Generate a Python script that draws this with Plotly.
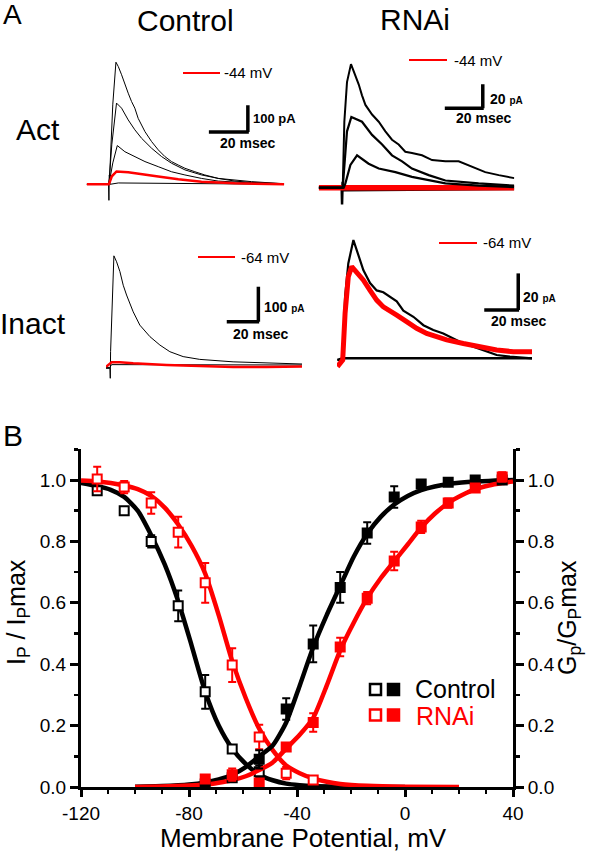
import plotly.graph_objects as go

W, H = 590, 852
def px(x): return x / W
def py(y): return 1 - y / H

RED = "#ff0000"
BLK = "#000000"
FONT = "Liberation Sans, Arial, sans-serif"

# ---------------- Panel B data ----------------
v_inact = [-114, -104, -94, -84, -74, -64, -54]
ctl_inact = [0.965, 0.90, 0.80, 0.59, 0.31, 0.124, 0.05]
ctl_inact_err = [0.01, 0.01, 0.02, 0.05, 0.055, 0.01, 0.02]
v_inact_r = [-114, -104, -94, -84, -74, -64, -54, -44, -34]
rnai_inact = [1.003, 0.977, 0.925, 0.83, 0.665, 0.397, 0.163, 0.045, 0.023]
rnai_inact_err = [0.04, 0.02, 0.035, 0.05, 0.065, 0.055, 0.04, 0.02, 0.01]

v_act = [-74, -64, -54, -44, -34, -24, -14, -4, 6, 16, 26, 36]
ctl_act = [0.01, 0.03, 0.09, 0.254, 0.466, 0.65, 0.827, 0.945, 0.987, 0.993, 1.0, 1.0]
ctl_act_err = [0.005, 0.01, 0.03, 0.035, 0.06, 0.05, 0.035, 0.035, 0.01, 0.01, 0.005, 0.005]
rnai_act = [0.026, 0.04, 0.013, 0.13, 0.21, 0.456, 0.615, 0.736, 0.847, 0.925, 0.974, 1.01]
rnai_act_err = [0.01, 0.02, 0.01, 0.01, 0.03, 0.03, 0.02, 0.03, 0.02, 0.015, 0.01, 0.015]

# fitted curves
fit_ci_v = [-120, -114, -109, -104, -99, -94, -89, -84, -79, -74, -69, -64, -59, -54, -49, -44, -39, -34, -24, -14, 0]
fit_ci = [0.99, 0.98, 0.968, 0.945, 0.9, 0.82, 0.725, 0.605, 0.46, 0.31, 0.2, 0.125, 0.075, 0.04, 0.022, 0.011, 0.006, 0.003, 0.001, 0, 0]
fit_ri_v = [-120, -114, -109, -104, -99, -94, -89, -84, -79, -74, -69, -64, -59, -54, -49, -44, -39, -34, -29, -24, -14, 0, 20]
fit_ri = [0.998, 0.995, 0.99, 0.982, 0.97, 0.948, 0.91, 0.855, 0.785, 0.695, 0.56, 0.41, 0.29, 0.19, 0.12, 0.07, 0.045, 0.028, 0.017, 0.01, 0.004, 0.001, 0]
fit_act_v = [-100, -90, -80, -74, -69, -64, -59, -54, -49, -44, -39, -34, -29, -24, -19, -14, -9, -4, 1, 6, 11, 16, 21, 26, 31, 36, 40]
fit_ca = [0.001, 0.003, 0.008, 0.015, 0.025, 0.04, 0.065, 0.1, 0.135, 0.21, 0.33, 0.455, 0.56, 0.655, 0.75, 0.825, 0.88, 0.92, 0.948, 0.967, 0.979, 0.987, 0.992, 0.995, 0.997, 0.999, 1.0]
fit_ra = [0.0, 0.002, 0.005, 0.008, 0.014, 0.022, 0.035, 0.055, 0.08, 0.125, 0.17, 0.225, 0.33, 0.445, 0.535, 0.615, 0.68, 0.735, 0.79, 0.845, 0.89, 0.925, 0.95, 0.97, 0.982, 0.99, 0.995]

x_ticks = [-120, -80, -40, 0, 40]
x_ticktext = ["-120", "-80", "-40", "0", "40"]

# ---------------- Panel A traces (ms, pA) ----------------
# Control, activation
ca1_t = [-11.4, -0.3, 0.3, 2.0, 3.6, 4.8, 6.5, 8.2, 9.9, 11.6, 13.3, 15.0, 16.8, 18.5, 21.9, 25.3, 28.7, 32.1, 35.6, 39.0, 44.1, 49.2, 56.1, 64.6, 73.2, 89.9]
ca1_i = [0, 0, 20, 300, 457, 441, 410, 372, 341, 310, 285, 247, 222, 197, 160, 129, 104, 85, 72, 60, 47, 35, 22, 12, 7, 2]
ca2_t = [-11.4, 0, 1.5, 3.9, 6.5, 9.9, 13.3, 16.8, 21.9, 27.0, 32.1, 39.0, 47.5, 56.1, 73.2, 89.9]
ca2_i = [0, 0, 150, 304, 285, 241, 204, 172, 135, 104, 79, 54, 35, 22, 10, 2]
ca3_t = [-11.4, 0, 2.0, 4.3, 8.2, 13.3, 18.5, 25.3, 32.1, 39.0, 47.5, 56.1, 73.2, 89.9]
ca3_i = [0, 0, 80, 145, 122, 104, 85, 66, 47, 35, 22, 12, 5, 1]
ca4_t = [-11.4, -0.2, 0, 0.2, 0.6, 4.8, 89.9]
ca4_i = [0, 0, -60, 35, 0, 5, 0]
car_t = [-11.4, 0, 1.5, 3.9, 9.9, 16.8, 25.3, 35.6, 47.5, 64.6, 89.9]
car_i = [0, 0, 30, 48, 45, 37, 29, 19, 10, 4, 0]

# RNAi, activation
ra1_t = [-12.3, 0.35, 1.2, 2.6, 4.7, 7.0, 8.8, 10.5, 12.3, 15.8, 19.3, 22.8, 26.3, 29.8, 33.3, 36.8, 42.1, 47.4, 54.4, 61.4, 68.4, 75.4, 82.5, 90.7]
ra1_i = [0, 0, 55, 88, 103, 94, 86, 77, 69, 61, 55, 47, 40, 36, 30, 29, 27, 23, 22, 22, 17.5, 13, 10.5, 8]
ra2_t = [-12.3, 0.35, 2.6, 4.9, 10.5, 15.8, 21.1, 26.3, 31.6, 36.8, 45.6, 54.4, 71.9, 90.7]
ra2_i = [0, 0, 47, 59, 55, 44, 36, 27, 22, 16, 10.5, 6, 3.6, 1.7]
ra3_t = [-12.3, 0.9, 1.75, 4.4, 7.9, 14.0, 19.3, 28.1, 36.8, 45.6, 54.4, 71.9, 90.7]
ra3_i = [0, 0, 3.6, 19, 27, 20, 16, 13, 9, 6, 3.6, 1.7, 0.5]
ra4_t = [-12.3, -0.2, 0, 0.3, 1.0, 90.7]
ra4_i = [0, 0, -14, 5, -2, -1]
rar_t = [-12.3, 90.7]
rar_i = [0, 0]

# Control, inactivation
ci1_t = [-2.5, 0, 0.2, 0.4, 2.5, 4.2, 6.3, 8.4, 10.5, 12.6, 14.7, 18.9, 25.3, 31.6, 37.9, 46.3, 56.8, 77.9, 98.9, 121.5]
ci1_i = [-7.6, -7.6, -36, 40, 314, 297, 269, 230, 202, 178, 154, 116, 83, 59, 40, 26, 18, 11, 7.6, 4.8]
ci2_t = [-2.5, 0, 1.0, 121.5]
ci2_i = [-5, -5, 3, 2]
cir_t = [-2.5, 1.05, 6.3, 14.7, 35.8, 56.8, 77.9, 98.9, 121.5]
cir_i = [-3, 9.5, 9.5, 6.7, 2, -1, -3.8, -3.8, -2]

# RNAi, inactivation
ri1_t = [-3.1, 0, 1.4, 3.3, 6.3, 8.2, 10.2, 12.2, 16.1, 20.0, 23.9, 27.8, 31.8, 35.7, 41.6, 47.5, 53.3, 59.2, 65.1, 71.0, 76.9, 82.7, 90.6, 98.4, 111.6]
ri1_i = [0, 0, 34.5, 52.7, 65.5, 60, 54.5, 49, 42, 38, 37, 34.5, 32, 27, 23.6, 19, 16.4, 14.5, 11.8, 9, 7.3, 5.5, 2.7, 1.8, 0.9]
ri2_t = [-3.1, 0, 111.6]
ri2_i = [0, 1, 1]
rir_t = [-3.1, 0, 1.4, 3.3, 5.3, 8.2, 12.2, 16.1, 20.0, 23.9, 27.8, 31.8, 37.6, 43.5, 49.4, 55.3, 61.2, 71.0, 80.8, 90.6, 100.4, 111.6]
rir_i = [-3.6, 0, 25.5, 45.5, 51, 48, 43.6, 38, 32.7, 29, 26.4, 24.5, 21, 17.3, 14.5, 12.7, 11, 9, 7.3, 5.5, 4.5, 4.5]

fig = go.Figure()

# ---------------- Panel B traces ----------------
def curve(xv, yv, color, yaxis):
    fig.add_trace(go.Scatter(x=xv, y=yv, mode="lines", line=dict(color=color, width=4.5, shape="spline", smoothing=0.6),
                             xaxis="x", yaxis=yaxis, hoverinfo="skip", showlegend=False))

def pts(xv, yv, err, color, filled, yaxis):
    fig.add_trace(go.Scatter(x=xv, y=yv, mode="markers",
                             marker=dict(symbol="square", size=9, color=color if filled else "white",
                                         line=dict(color=color, width=2)),
                             error_y=dict(type="data", array=err, color=color, thickness=2, width=4),
                             xaxis="x", yaxis=yaxis, showlegend=False))

curve(fit_ci_v, fit_ci, BLK, "y")
curve(fit_act_v, fit_ca, BLK, "y2")
curve(fit_ri_v, fit_ri, RED, "y")
curve(fit_act_v, fit_ra, RED, "y2")
pts(v_inact, ctl_inact, ctl_inact_err, BLK, False, "y")
pts(v_act, ctl_act, ctl_act_err, BLK, True, "y2")
pts(v_inact_r, rnai_inact, rnai_inact_err, RED, False, "y")
pts(v_act, rnai_act, rnai_act_err, RED, True, "y2")

# ---------------- Panel A traces ----------------
def tr(t, i, ax, color=BLK, width=1.0):
    fig.add_trace(go.Scatter(x=t, y=i, mode="lines", line=dict(color=color, width=width),
                             xaxis="x" + ax, yaxis="y" + ax, hoverinfo="skip", showlegend=False))

tr(ca1_t, ca1_i, "3"); tr(ca2_t, ca2_i, "3"); tr(ca3_t, ca3_i, "3"); tr(ca4_t, ca4_i, "3")
tr(car_t, car_i, "3", RED, 2.5)
tr(ra4_t, ra4_i, "4", BLK, 2.5)
tr(rar_t, rar_i, "4", RED, 5.5)
tr(ra1_t, ra1_i, "4", BLK, 2.0); tr(ra2_t, ra2_i, "4", BLK, 2.2); tr(ra3_t, ra3_i, "4", BLK, 2.2)
tr(ci1_t, ci1_i, "5"); tr(ci2_t, ci2_i, "5")
tr(cir_t, cir_i, "5", RED, 2.5)
tr(ri2_t, ri2_i, "6", BLK, 2.5)
tr(ri1_t, ri1_i, "6", BLK, 2.2)
tr(rir_t, rir_i, "6", RED, 5)

# ---------------- layout ----------------
tickfont = dict(family=FONT, size=19, color=BLK)
common_y = dict(range=[0, 1.1], tick0=0, dtick=0.2, tickformat=".1f", showline=True, linewidth=3, linecolor=BLK,
                ticks="outside", ticklen=8, tickwidth=3, tickcolor=BLK, showgrid=False, zeroline=False,
                minor=dict(dtick=0.1, tick0=0, ticks="outside", ticklen=4, tickwidth=2.5, tickcolor=BLK, showgrid=False),
                tickfont=tickfont, domain=[py(787), py(449.3)], anchor="x", fixedrange=True, automargin=False)

def hidden(dom_x, dom_y, xr, yr, n):
    return (dict(domain=[px(dom_x[0]), px(dom_x[1])], range=xr, visible=False, fixedrange=True,
                 automargin=False, anchor="y" + n),
            dict(domain=[py(dom_y[1]), py(dom_y[0])], range=yr, visible=False, fixedrange=True,
                 automargin=False, anchor="x" + n))

x3, y3 = hidden((86.7, 284.3), (55, 205), [-11.4, 90], [-77.5, 484], "3")
x4, y4 = hidden((318.7, 514.3), (55, 205), [-12.3, 90.7], [-14.4, 110.6], "4")
x5, y5 = hidden((106, 302), (245, 380), [-2.5, 121.5], [-40.9, 345], "5")
x6, y6 = hidden((337, 532), (230, 375), [-3.35, 111.4], [-8.2, 71], "6")

fig.update_layout(
    width=W, height=H, autosize=False, margin=dict(l=0, r=0, t=0, b=0, pad=0, autoexpand=False),
    paper_bgcolor="white", plot_bgcolor="rgba(0,0,0,0)", showlegend=False,
    font=dict(family=FONT, color=BLK),
    xaxis=dict(domain=[px(81), px(513)], range=[-120, 40], tickmode="array", tickvals=x_ticks, ticktext=x_ticktext,
               showline=True, linewidth=3, linecolor=BLK, ticks="outside", ticklen=7, tickwidth=3, tickcolor=BLK,
               minor=dict(dtick=10, tick0=-120, ticks="outside", ticklen=4, tickwidth=2.5, tickcolor=BLK, showgrid=False),
               showgrid=False, zeroline=False, tickfont=tickfont, anchor="y", fixedrange=True, automargin=False),
    yaxis=common_y,
    yaxis2=dict(common_y, overlaying="y", side="right"),
    xaxis3=x3, yaxis3=y3, xaxis4=x4, yaxis4=y4, xaxis5=x5, yaxis5=y5, xaxis6=x6, yaxis6=y6,
)

# scale bars (in trace-panel data units) and red legend lines
shapes = []
def bar(ax, t_end, i0, dt, di):
    shapes.append(dict(type="line", xref="x" + ax, yref="y" + ax, x0=t_end, x1=t_end, y0=i0, y1=i0 + di,
                       line=dict(color=BLK, width=3.5)))
    shapes.append(dict(type="line", xref="x" + ax, yref="y" + ax, x0=t_end - dt, x1=t_end + 0.5, y0=i0, y1=i0,
                       line=dict(color=BLK, width=3.5)))
bar("3", 71.3, 196, 20, 100)
bar("4", 74.1, 66.2, 20, 20)
bar("5", 93.9, 125.7, 20, 100)
bar("6", 103.3, 27.3, 20, 20)

def redline(x0, x1, y):
    shapes.append(dict(type="line", xref="paper", yref="paper", x0=px(x0), x1=px(x1), y0=py(y), y1=py(y),
                       line=dict(color=RED, width=2)))
redline(183, 220, 73)
redline(409, 447, 60)
redline(198, 235, 257)
redline(439, 477, 243)

# legend squares
def sq(cx, cy, color, filled):
    s = 5.5
    shapes.append(dict(type="rect", xref="paper", yref="paper", x0=px(cx - s), x1=px(cx + s), y0=py(cy + s), y1=py(cy - s),
                       line=dict(color=color, width=2.5), fillcolor=color if filled else "white"))
sq(375.5, 689.5, BLK, False); sq(393.5, 689.5, BLK, True)
sq(375.5, 715, RED, False); sq(393.5, 715, RED, True)
fig.update_layout(shapes=shapes)

ann = []
def txt(x, y, s, size, xanchor="center", color=BLK, angle=0):
    ann.append(dict(x=px(x), y=py(y), xref="paper", yref="paper", text=s, showarrow=False, xanchor=xanchor,
                    yanchor="middle", textangle=angle, font=dict(family=FONT, size=size, color=color)))

txt(1, 14, "A", 28, "left")
txt(185, 20, "Control", 30)
txt(415, 19, "RNAi", 30)
txt(38, 129, "Act", 30)
txt(33, 324, "Inact", 30)
txt(0.5, 436, "B", 30, "left")

txt(251, 118, "<b>100 pA</b>", 13, "left")
txt(247, 143, "<b>20 msec</b>", 14)
txt(222, 72, "-44 mV", 15, "left")
txt(488, 99, "<b>20 <span style='font-size:10px'>pA</span></b>", 14, "left")
txt(484, 118, "<b>20 msec</b>", 14)
txt(452, 60, "-44 mV", 15, "left")
txt(262, 307, "<b>100 <span style='font-size:10px'>pA</span></b>", 14, "left")
txt(260, 334, "<b>20 msec</b>", 14)
txt(239, 257, "-64 mV", 15, "left")
txt(521, 297, "<b>20 <span style='font-size:10px'>pA</span></b>", 14, "left")
txt(518, 321, "<b>20 msec</b>", 14)
txt(481, 243, "-64 mV", 15, "left")

txt(413, 689, "Control", 25, "left")
txt(414, 716, "RNAi", 25, "left", RED)

txt(303, 838, "Membrane Potential, mV", 26)
txt(18, 612, "I<sub>P</sub> / I<sub>P</sub>max", 25, angle=-90)
txt(569, 618, "G<sub>p</sub>/G<sub>P</sub>max", 25, angle=-90)
fig.update_layout(annotations=ann)

fig.write_html("out.html", config={"displayModeBar": False, "staticPlot": True},
               post_script="document.body.style.margin='0px';document.body.style.padding='0px';")
